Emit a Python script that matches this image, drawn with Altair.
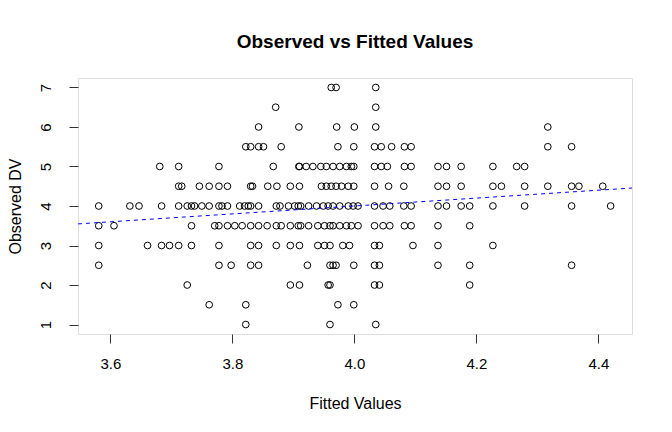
import altair as alt
import pandas as pd

# Fitted values (x positions of the point columns) and observed DV values in each column
fitted = [
    3.581, 3.606, 3.632, 3.647, 3.661, 3.681, 3.684, 3.697, 3.712, 3.717,
    3.726, 3.733, 3.738, 3.746, 3.750, 3.762, 3.771, 3.778, 3.783, 3.792,
    3.798, 3.804, 3.812, 3.816, 3.820, 3.822, 3.826, 3.830, 3.833, 3.843,
    3.851, 3.857, 3.858, 3.867, 3.871, 3.872, 3.873, 3.878, 3.880, 3.892,
    3.895, 3.902, 3.908, 3.909, 3.910, 3.912, 3.921, 3.923, 3.925, 3.932,
    3.938, 3.940, 3.945, 3.946, 3.949, 3.951, 3.954, 3.957, 3.960, 3.962,
    3.965, 3.970, 3.971, 3.973, 3.976, 3.979, 3.981, 3.987, 3.990, 3.992,
    3.995, 3.998, 3.999, 4.000, 4.006, 4.033, 4.035, 4.041, 4.044, 4.047,
    4.054, 4.056, 4.058, 4.061, 4.081, 4.082, 4.093, 4.096, 4.137, 4.151,
    4.175, 4.189, 4.227, 4.241, 4.266, 4.279, 4.317, 4.356, 4.368, 4.407,
    4.420,
]
observed = [
    [4, 3.5, 3, 2.5], [3.5], [4], [4], [3], [5], [4, 3], [3], [5, 4.5, 4, 3], [4.5],
    [4, 2], [4, 3.5, 3], [4], [4.5], [4], [4.5, 4, 1.5], [3.5], [5, 4.5, 4, 3.5, 3, 2.5], [4], [4.5, 4, 3.5],
    [2.5], [3.5], [4], [3.5], [4], [5.5, 1.5, 1], [4], [5.5, 4.5, 4, 3.5, 3, 2.5], [4.5], [6, 5.5, 4, 3.5, 3, 2.5],
    [5.5], [3.5], [4.5], [5], [6.5], [4, 3.5, 3], [4.5], [4], [5.5, 3.5], [4],
    [4.5, 3.5, 3, 2], [4], [4, 3.5], [6, 5], [5, 4.5, 3, 2], [4, 3.5], [5], [2.5], [4, 3.5], [5],
    [4], [3.5, 3], [5], [4.5], [4], [3.5, 3], [5, 4.5], [4, 2], [3.5, 3, 2.5, 2, 1], [7, 4.5],
    [5, 4, 3.5, 2.5], [7, 4.5, 2.5], [6], [5.5, 1.5], [5, 4, 3.5], [4.5], [3], [5, 3.5], [4.5, 4], [3],
    [5, 3.5], [4], [5.5, 5, 4.5, 2.5, 1.5], [6], [4, 3.5], [5.5, 5, 4.5, 4, 3.5, 3, 2.5, 2], [7, 6.5, 6, 1], [3, 2.5, 2], [5.5, 5], [4, 3.5],
    [5], [4.5], [4, 3.5], [5.5], [4.5, 4], [5.5, 5, 3.5], [5.5, 5, 4, 3.5], [3], [5, 4.5, 4, 3.5, 3, 2.5], [5, 4.5, 4],
    [5, 4.5, 4], [4, 3.5, 2.5, 2], [5, 4.5, 4, 3], [4.5], [5], [5, 4.5, 4], [6, 5.5, 4.5], [5.5, 4.5, 4, 2.5], [4.5], [4.5],
    [4],
]

# Reference line: intercept and slope
line_intercept = 0.0
line_slope = 1.0

x_domain = [3.547, 4.455]
y_domain = [0.76, 7.24]
x_ticks = [3.6, 3.8, 4.0, 4.2, 4.4]
y_ticks = [1, 2, 3, 4, 5, 6, 7]

rows = []
for fx, obs in zip(fitted, observed):
    for o in obs:
        rows.append({"fitted": fx, "observed": o})
df = pd.DataFrame(rows)

line_df = pd.DataFrame({
    "fitted": x_domain,
    "observed": [line_intercept + line_slope * v for v in x_domain],
})

FONT = "Liberation Sans"

x_enc = alt.X(
    "fitted:Q",
    scale=alt.Scale(domain=x_domain, nice=False, zero=False),
    axis=alt.Axis(
        values=x_ticks, format=".1f", title="Fitted Values", grid=False, domain=False,
        tickSize=9, tickColor="#333333", labelFontSize=15, labelFont=FONT, labelColor="black",
        labelPadding=13, labelBaseline="top", labelFlush=False, labelOverlap=False,
        titleFont=FONT, titleFontSize=16, titleFontWeight="normal", titleColor="black",
        titleBaseline="alphabetic", titleY=74, titleX=277,
    ),
)
y_enc = alt.Y(
    "observed:Q",
    scale=alt.Scale(domain=y_domain, nice=False, zero=False),
    axis=alt.Axis(
        values=y_ticks, format="d", title="Observed DV", grid=False, domain=False,
        tickSize=9, tickColor="#333333", labelFontSize=15, labelFont=FONT, labelColor="black",
        labelAngle=-90, labelAlign="center", labelBaseline="alphabetic", labelPadding=19,
        labelFlush=False, labelOverlap=False,
        titleFont=FONT, titleFontSize=16, titleFontWeight="normal", titleColor="black",
        titleAngle=-90, titleBaseline="alphabetic", titleX=-58, titleY=128, titleAlign="center",
    ),
)

points = alt.Chart(df).mark_point(
    shape="circle", filled=False, size=45, color="black", strokeWidth=1, opacity=1
).encode(x=x_enc, y=y_enc)

line = alt.Chart(line_df).mark_line(
    color="#0000ff", strokeDash=[4, 4], strokeWidth=1, clip=True
).encode(x=alt.X("fitted:Q"), y=alt.Y("observed:Q"))

chart = alt.layer(points, line).properties(
    width=554,
    height=256,
    title=alt.TitleParams(
        "Observed vs Fitted Values", font=FONT, fontSize=19, fontWeight="bold",
        color="black", anchor="middle", baseline="alphabetic", offset=11,
    ),
    autosize=alt.AutoSizeParams(type="none"),
    padding={"left": 70, "top": 70, "right": 32, "bottom": 90},
).configure_view(
    stroke="black", strokeWidth=1
).configure(background="white")

chart.save("out.html", embed_options={"renderer": "svg", "actions": False})
